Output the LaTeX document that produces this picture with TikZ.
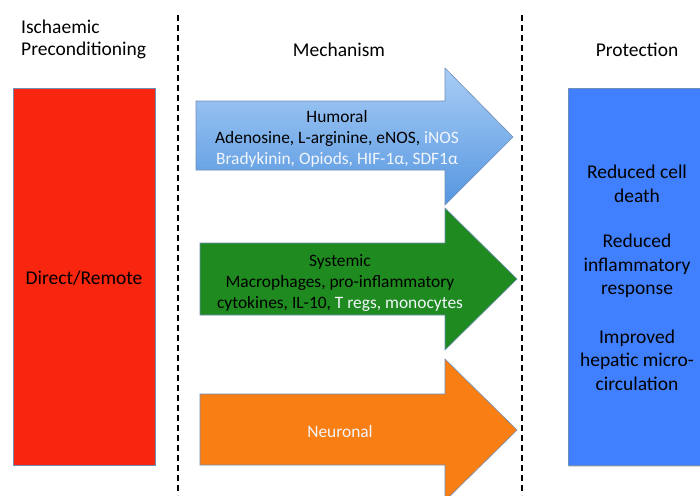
\documentclass[tikz,border=0pt]{standalone}
\usepackage{fontspec}
\setmainfont{Carlito}
\usetikzlibrary{shadows}
\definecolor{redbox}{HTML}{F8250F}
\definecolor{bluebox}{HTML}{4080FF}
\definecolor{edgec}{HTML}{6F8FB8}
\definecolor{humtop}{HTML}{A9CDF6}
\definecolor{humbot}{HTML}{5596DF}
\definecolor{sysg}{HTML}{1F8A1F}
\definecolor{neuo}{HTML}{F97F14}
\definecolor{whitish}{HTML}{F2F6FC}
\tikzset{
  panel/.style={draw=edgec, line width=0.6pt},
  divider/.style={black, line width=1.6pt, dash pattern=on 6pt off 4pt},
  head/.style={font=\fontsize{19.5}{22}\selectfont, align=center},
  prot/.style={font=\fontsize{19.5}{23.5}\selectfont, align=center},
  arrtxt/.style={font=\fontsize{17.4}{21}\selectfont, align=center},
  bigarrow/.style={draw=edgec, line width=0.6pt},
}
\begin{document}
\begin{tikzpicture}[x=1pt,y=-1pt]
\useasboundingbox (0,0) rectangle (700,495);
% dividers
\coordinate (d1t) at (178,15); \coordinate (d1b) at (178,495);
\coordinate (d2t) at (522,15); \coordinate (d2b) at (522,495);
\draw[divider] (d1t) -- (d1b);
\draw[divider] (d2t) -- (d2b);
% headers
\node[head, align=left, anchor=west, inner sep=0pt] (h1) at (21,39) {Ischaemic\\Preconditioning};
\node[head] (h2) at (339,50) {Mechanism};
\node[head] (h3) at (637,50) {Protection};
% boxes
\filldraw[panel, fill=redbox] (13,88) rectangle (155,465);
\node[head] (dr) at (84,278) {Direct/Remote};
\filldraw[panel, fill=bluebox, drop shadow={shadow xshift=1pt, shadow yshift=-1.5pt, opacity=0.3}] (568,88) rectangle (705,465);
\node[prot] (p1) at (637,184) {Reduced cell\\death};
\node[prot] (p2) at (637,266) {Reduced\\inflammatory\\response};
\node[prot] (p3) at (637,360) {Improved\\hepatic micro-\\circulation};
% Humoral arrow
\shade[top color=humtop, bottom color=humbot] (196,101) -- (445,101) -- (445,68) -- (513,137) -- (445,205) -- (445,170) -- (196,170) -- cycle;
\draw[bigarrow] (196,101) -- (445,101) -- (445,68) -- (513,137) -- (445,205) -- (445,170) -- (196,170) -- cycle;
\node[arrtxt] (hum) at (337,139) {Humoral\\Adenosine, L-arginine, eNOS, \textcolor{whitish}{iNOS}\\\textcolor{whitish}{Bradykinin, Opiods, HIF-1α, SDF1α}};
% Systemic arrow
\filldraw[bigarrow, fill=sysg] (200,243) -- (445,243) -- (445,208) -- (517,279) -- (445,350) -- (445,315) -- (200,315) -- cycle;
\node[arrtxt] (sys) at (340,283) {Systemic\\Macrophages, pro-inflammatory\\cytokines, IL-10, \textcolor{whitish}{T regs, monocytes}};
% Neuronal arrow
\filldraw[bigarrow, fill=neuo] (200,394) -- (445,394) -- (445,359) -- (517,430) -- (445,501) -- (445,465) -- (200,465) -- cycle;
\node[arrtxt, text=whitish] (neu) at (340,432) {Neuronal};
\end{tikzpicture}
\end{document}
